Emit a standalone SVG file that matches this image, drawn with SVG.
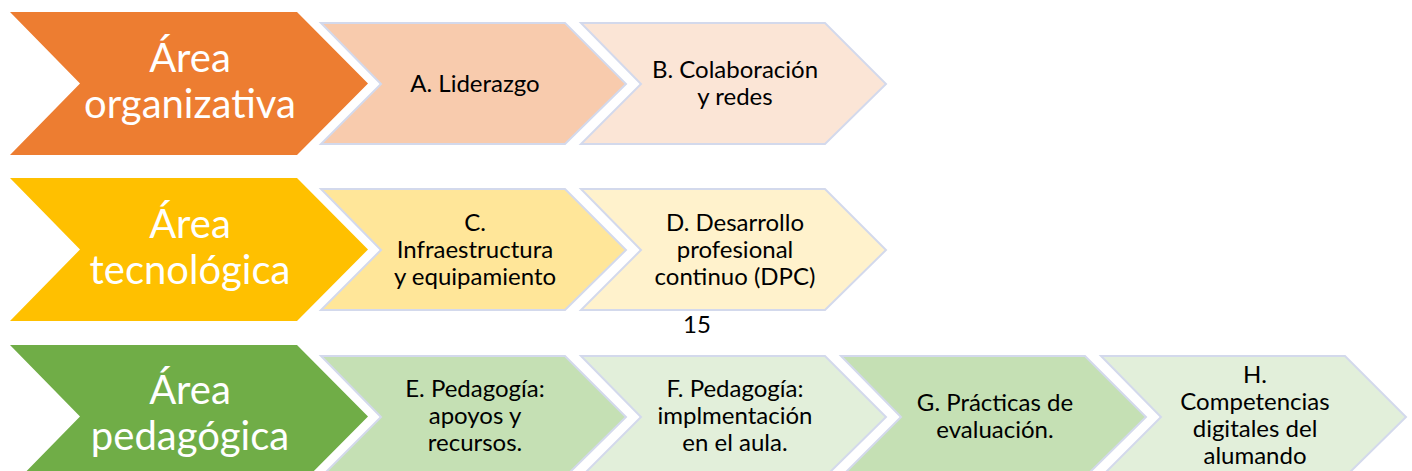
<svg xmlns="http://www.w3.org/2000/svg" width="1412" height="471" viewBox="0 0 1412 471">
<style>
.big{stroke:none}
.sm{stroke:#D3D9EC;stroke-width:2;stroke-linejoin:miter}
.bt{font-family:Lato,"Open Sans","Liberation Sans",sans-serif;font-size:40px;fill:#fff;text-anchor:middle}
.st{font-family:Lato,"Open Sans","Liberation Sans",sans-serif;font-size:24px;fill:#000;text-anchor:middle}
</style>
<defs>
<polygon id="bigc" points="0,0 287,0 358,71.5 287,143 0,143 70,71.5"/>
<polygon id="smc" points="0,0 244,0 305,61 244,121 0,121 60,61"/>
</defs>
<rect width="1412" height="471" fill="#fff"/>

<!-- Row 1 -->
<g id="area-organizativa">
<use href="#bigc" x="10" y="12" fill="#ED7D31"/>
<text class="bt" x="190" y="72">Área</text>
<text class="bt" x="190" y="118">organizativa</text>
</g>
<g id="node-a">
<use href="#smc" x="321" y="23" fill="#F8CBAD" class="sm"/>
<text class="st" x="475" y="92">A. Liderazgo</text>
</g>
<g id="node-b">
<use href="#smc" x="581" y="23" fill="#FBE5D6" class="sm"/>
<text class="st" x="735" y="78">B. Colaboración</text>
<text class="st" x="735" y="105">y redes</text>
</g>

<!-- Row 2 -->
<g id="area-tecnologica">
<use href="#bigc" x="10" y="178" fill="#FFC000"/>
<text class="bt" x="190" y="238">Área</text>
<text class="bt" x="190" y="284">tecnológica</text>
</g>
<g id="node-c">
<use href="#smc" x="321" y="189" fill="#FFE699" class="sm"/>
<text class="st" x="475" y="231">C.</text>
<text class="st" x="475" y="258">Infraestructura</text>
<text class="st" x="475" y="285">y equipamiento</text>
</g>
<g id="node-d">
<use href="#smc" x="581" y="189" fill="#FFF2CC" class="sm"/>
<text class="st" x="735" y="231">D. Desarrollo</text>
<text class="st" x="735" y="258">profesional</text>
<text class="st" x="735" y="285">continuo (DPC)</text>
</g>

<g id="page-number">
<text class="st" x="697" y="333">15</text>
</g>

<!-- Row 3 -->
<g id="area-pedagogica">
<use href="#bigc" x="10" y="345" fill="#70AD47"/>
<text class="bt" x="190" y="404">Área</text>
<text class="bt" x="190" y="450">pedagógica</text>
</g>
<g id="node-e">
<use href="#smc" x="321" y="356" fill="#C5E0B4" class="sm"/>
<text class="st" x="475" y="397">E. Pedagogía:</text>
<text class="st" x="475" y="424">apoyos y</text>
<text class="st" x="475" y="451">recursos.</text>
</g>
<g id="node-f">
<use href="#smc" x="581" y="356" fill="#E2EFDA" class="sm"/>
<text class="st" x="735" y="397">F. Pedagogía:</text>
<text class="st" x="735" y="424">implmentación</text>
<text class="st" x="735" y="451">en el aula.</text>
</g>
<g id="node-g">
<use href="#smc" x="841" y="356" fill="#C5E0B4" class="sm"/>
<text class="st" x="995" y="411">G. Prácticas de</text>
<text class="st" x="995" y="438">evaluación.</text>
</g>
<g id="node-h">
<use href="#smc" x="1101" y="356" fill="#E2EFDA" class="sm"/>
<text class="st" x="1255" y="383">H.</text>
<text class="st" x="1255" y="410">Competencias</text>
<text class="st" x="1255" y="437">digitales del</text>
<text class="st" x="1255" y="464">alumando</text>
</g>

<g id="connectors"/>
</svg>
